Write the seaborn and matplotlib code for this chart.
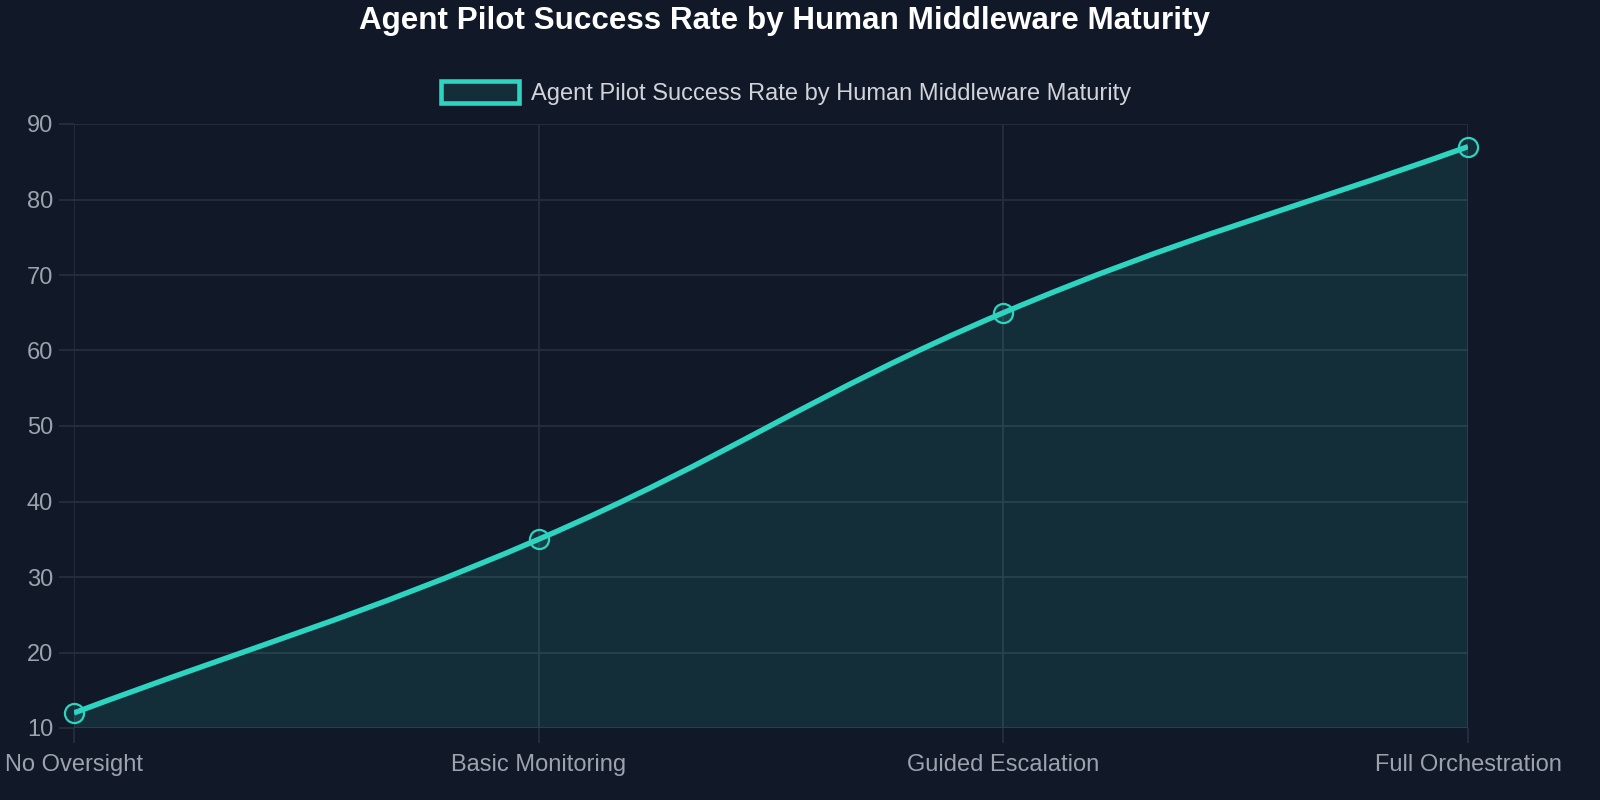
import numpy as np
import pandas as pd
import matplotlib
matplotlib.use("Agg")
import matplotlib.pyplot as plt
import seaborn as sns
from matplotlib.path import Path
from matplotlib.patches import PathPatch, Rectangle

# donnees du graphique
stages = ["No Oversight", "Basic Monitoring", "Guided Escalation", "Full Orchestration"]
success_rate = [12, 35, 65, 87]
series_name = "Agent Pilot Success Rate by Human Middleware Maturity"
y_ticks = [10, 20, 30, 40, 50, 60, 70, 80, 90]

BG = "#111827"
GRID = "#283040"
TEAL = "#2dd4bf"
FILL = (45/255, 212/255, 191/255, 0.12)
TICKC = "#9ca3af"

df = pd.DataFrame({"stage": stages, "rate": success_rate})
df["pos"] = range(len(df))

sns.set_theme(style="dark")
plt.rcParams['font.family'] = ['Liberation Sans', 'DejaVu Sans']

fig = plt.figure(figsize=(16, 8), dpi=100, facecolor=BG)
ax = fig.add_axes([0.04625, 0.09, 0.87125, 0.755])
ax.set_facecolor(BG)
ax.set_xlim(0, len(stages) - 1)
ax.set_ylim(10, 90)

# points (dessines sous la ligne)
sns.scatterplot(data=df, x="pos", y="rate", ax=ax, s=190, marker="o",
                facecolor=FILL, edgecolor=TEAL, linewidth=1.6, zorder=3,
                clip_on=False, legend=False)

# courbe lissee type Chart.js (tension 0.4) en coordonnees ecran
fig.canvas.draw()
pts = ax.transData.transform(np.column_stack([df["pos"], df["rate"]]))
n = len(pts)
t = 0.4
cps = []
for i in range(n):
    prev = pts[i - 1] if i > 0 else pts[i]
    nxt = pts[i + 1] if i < n - 1 else pts[i]
    d01 = np.hypot(*(pts[i] - prev))
    d12 = np.hypot(*(nxt - pts[i]))
    s = d01 + d12
    fa = t * d01 / s if s else 0
    fb = t * d12 / s if s else 0
    cps.append((pts[i] - fa * (nxt - prev), pts[i] + fb * (nxt - prev)))
verts = [pts[0]]
codes = [Path.MOVETO]
for i in range(n - 1):
    verts += [cps[i][1], cps[i + 1][0], pts[i + 1]]
    codes += [Path.CURVE4] * 3
inv = ax.transData.inverted()
verts_d = inv.transform(np.array(verts))

line_path = Path(verts_d, codes)
fill_verts = np.vstack([verts_d, [[verts_d[-1][0], 10], [verts_d[0][0], 10], verts_d[0]]])
fill_codes = codes + [Path.LINETO, Path.LINETO, Path.CLOSEPOLY]
ax.add_patch(PathPatch(Path(fill_verts, fill_codes), facecolor=FILL, edgecolor="none", zorder=2))
ax.add_patch(PathPatch(line_path, facecolor="none", edgecolor=TEAL, linewidth=3.9,
                       capstyle="butt", joinstyle="round", zorder=4))

# axes
ax.set_xticks(df["pos"])
ax.set_xticklabels(stages)
ax.set_yticks(y_ticks)
ax.grid(True, color=GRID, linewidth=1.2, zorder=1)
ax.set_axisbelow(True)
for sp in ax.spines.values():
    sp.set_visible(False)
ax.tick_params(axis="both", colors=GRID, length=11, width=1.2, labelcolor=TICKC,
               labelsize=17, bottom=True, left=True)
ax.tick_params(axis="x", pad=8)
ax.tick_params(axis="y", pad=4)
ax.set_xlabel("")
ax.set_ylabel("")

# titre + legende
fig.text(0.4906, 0.974, series_name, ha="center", va="center", color="white",
         fontsize=22.6, fontweight="bold")
fig.patches.append(Rectangle((441 / 1600, 1 - 103 / 800), 78 / 1600, 22 / 800,
                             transform=fig.transFigure, facecolor=FILL,
                             edgecolor=TEAL, linewidth=3.3))
fig.text(531 / 1600, 1 - 94 / 800, series_name, ha="left", va="center",
         color="#d1d5db", fontsize=17)

fig.savefig("out.png", dpi=100, facecolor=BG)
